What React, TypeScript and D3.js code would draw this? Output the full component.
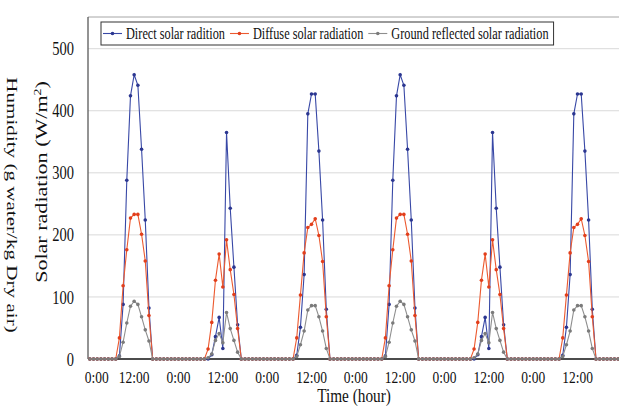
import React, { useRef, useEffect } from "react";
import * as d3 from "d3";

// hourly profiles (0:00 .. 23:00) for the three kinds of day in the record
const directA = [0, 0, 0, 0, 0, 0, 0, 0, 5, 88, 288, 424, 458, 441, 338, 224, 82, 0, 0, 0, 0, 0, 0, 0];
const directB = [0, 0, 0, 0, 0, 0, 0, 0, 0, 7, 36, 67, 17, 365, 243, 148, 55, 0, 0, 0, 0, 0, 0, 0];
const directC = [0, 0, 0, 0, 0, 0, 0, 0, 6, 51, 136, 395, 427, 427, 335, 224, 80, 0, 0, 0, 0, 0, 0, 0];

const diffuseA = [0, 0, 0, 0, 0, 0, 0, 0, 34, 118, 176, 227, 233, 233, 201, 158, 70, 0, 0, 0, 0, 0, 0, 0];
const diffuseB = [0, 0, 0, 0, 0, 0, 0, 0, 16, 59, 127, 169, 116, 192, 144, 104, 49, 0, 0, 0, 0, 0, 0, 0];
const diffuseC = [0, 0, 0, 0, 0, 0, 0, 0, 34, 103, 171, 212, 217, 226, 199, 157, 68, 0, 0, 0, 0, 0, 0, 0];

const groundA = [0, 0, 0, 0, 0, 0, 0, 0, 4, 27, 58, 85, 93, 88, 68, 47, 29, 0, 0, 0, 0, 0, 0, 0];
const groundB = [0, 0, 0, 0, 0, 0, 0, 0, 2, 8, 30, 41, 26, 75, 49, 30, 11, 0, 0, 0, 0, 0, 0, 0];
const groundC = [0, 0, 0, 0, 0, 0, 0, 0, 4, 23, 45, 79, 86, 86, 68, 45, 17, 0, 0, 0, 0, 0, 0, 0];

// which profile each of the six days follows
const dayOrder = ["A", "B", "C", "A", "B", "C"];

const yTicks = [0, 100, 200, 300, 400, 500];
const xTickHours = [0, 12, 24, 36, 48, 60, 72, 84, 96, 108, 120, 132];
const xTickLabels = ["0:00", "12:00", "0:00", "12:00", "0:00", "12:00", "0:00", "12:00", "0:00", "12:00", "0:00", "12:00"];

const seriesNames = ["Direct solar radition", "Diffuse solar radiation", "Ground reflected solar radiation"];

const profiles: Record<string, Record<string, number[]>> = {
  direct: { A: directA, B: directB, C: directC },
  diffuse: { A: diffuseA, B: diffuseB, C: diffuseC },
  ground: { A: groundA, B: groundB, C: groundC },
};

const W = 619;
const H = 408;
const FONT = "'Liberation Serif', 'Times New Roman', serif";
const STRETCH = 1.3;

const App = () => {
  const svgRef = useRef<SVGSVGElement>(null);

  useEffect(() => {
    const svg = d3.select(svgRef.current);
    svg.selectAll("*").remove();

    const left = 88;
    const top = 17;

    const x = d3.scaleLinear().domain([-0.5, 143.5]).range([left, 620]);
    const y = d3.scaleLinear().domain([0, 500]).range([359, 48.7]);

    const series = [
      { key: "direct", name: seriesNames[0], line: "#3848A6", mark: "#2B3690" },
      { key: "diffuse", name: seriesNames[1], line: "#EC5A30", mark: "#E23E1B" },
      { key: "ground", name: seriesNames[2], line: "#8E8E8E", mark: "#7B7B7B" },
    ].map((s) => ({
      ...s,
      values: dayOrder.flatMap((d) => profiles[s.key][d]),
    }));

    // gridlines
    svg
      .append("g")
      .selectAll("line")
      .data(yTicks.filter((t) => t > 0))
      .enter()
      .append("line")
      .attr("x1", left)
      .attr("x2", W)
      .attr("y1", (d) => y(d))
      .attr("y2", (d) => y(d))
      .attr("stroke", "#D9D9D9")
      .attr("stroke-width", 1);

    // frame
    svg
      .append("line")
      .attr("x1", left)
      .attr("x2", W)
      .attr("y1", top)
      .attr("y2", top)
      .attr("stroke", "#A6A6A6");
    svg
      .append("line")
      .attr("x1", left)
      .attr("x2", left)
      .attr("y1", top)
      .attr("y2", y(0))
      .attr("stroke", "#595959")
      .attr("stroke-width", 1.3);
    svg
      .append("line")
      .attr("x1", left)
      .attr("x2", W)
      .attr("y1", y(0))
      .attr("y2", y(0))
      .attr("stroke", "#111")
      .attr("stroke-width", 1.3);

    // y tick labels
    svg
      .append("g")
      .selectAll("text")
      .data(yTicks)
      .enter()
      .append("text")
      .attr("transform", (d) => `translate(74, ${y(d)}) scale(1, ${STRETCH})`)
      .attr("dy", "0.35em")
      .attr("text-anchor", "end")
      .attr("font-family", FONT)
      .attr("font-size", 14.5)
      .attr("fill", "#111")
      .text((d) => d);

    // x tick labels
    svg
      .append("g")
      .selectAll("text")
      .data(xTickHours)
      .enter()
      .append("text")
      .attr("transform", (d, i) => `translate(${i === 0 ? x(d) + 7 : x(d)}, 376.5) scale(1, ${STRETCH})`)
      .attr("dy", "0.35em")
      .attr("text-anchor", "middle")
      .attr("font-family", FONT)
      .attr("font-size", 13.5)
      .attr("fill", "#111")
      .text((d, i) => xTickLabels[i]);

    // axis titles
    svg
      .append("text")
      .attr("transform", `translate(354, 396) scale(1, 1.2)`)
      .attr("dy", "0.35em")
      .attr("text-anchor", "middle")
      .attr("font-family", FONT)
      .attr("font-size", 15.3)
      .attr("fill", "#111")
      .text("Time (hour)");

    const yTitle = svg
      .append("text")
      .attr("transform", `translate(41, 182) scale(1, 1.38) rotate(-90)`)
      .attr("dy", "0.35em")
      .attr("text-anchor", "middle")
      .attr("font-family", FONT)
      .attr("font-size", 16)
      .attr("fill", "#111");
    yTitle.append("tspan").text("Solar radiation (W/m");
    yTitle.append("tspan").attr("font-size", 10).attr("dy", "-0.6em").text("2");
    yTitle.append("tspan").attr("dy", "0.38em").text(")");

    svg
      .append("text")
      .attr("transform", `translate(12, 205) scale(1, 1.38) rotate(90)`)
      .attr("dy", "0.35em")
      .attr("text-anchor", "middle")
      .attr("font-family", FONT)
      .attr("font-size", 15.3)
      .attr("fill", "#111")
      .text("Humidity (g water/kg Dry air)");

    // series
    const line = d3
      .line<number>()
      .x((d, i) => x(i))
      .y((d) => y(d));

    series.forEach((s) => {
      const g = svg.append("g");
      g.append("path")
        .datum(s.values)
        .attr("d", line)
        .attr("fill", "none")
        .attr("stroke", s.line)
        .attr("stroke-width", 1.1);
      g.selectAll("circle")
        .data(s.values)
        .enter()
        .append("circle")
        .attr("cx", (d, i) => x(i))
        .attr("cy", (d) => y(d))
        .attr("r", 1.8)
        .attr("fill", s.mark);
    });

    // legend
    const legend = svg.append("g");
    const box = legend
      .append("rect")
      .attr("x", 101)
      .attr("y", 22)
      .attr("height", 23)
      .attr("fill", "#fff")
      .attr("stroke", "#333")
      .attr("stroke-width", 1);
    let cx = 103;
    series.forEach((s) => {
      legend
        .append("line")
        .attr("x1", cx)
        .attr("x2", cx + 19)
        .attr("y1", 33.5)
        .attr("y2", 33.5)
        .attr("stroke", s.line)
        .attr("stroke-width", 1.1);
      legend
        .append("circle")
        .attr("cx", cx + 9.5)
        .attr("cy", 33.5)
        .attr("r", 1.8)
        .attr("fill", s.mark);
      const t = legend
        .append("text")
        .attr("transform", `translate(${cx + 23}, 33.5) scale(1, ${STRETCH})`)
        .attr("dy", "0.35em")
        .attr("font-family", FONT)
        .attr("font-size", 12.3)
        .attr("fill", "#111")
        .text(s.name);
      const len = (t.node() as SVGTextElement).getComputedTextLength();
      cx = cx + 23 + len + 5;
    });
    box.attr("width", cx - 101);
  }, []);

  return (
    <svg
      ref={svgRef}
      width={W}
      height={H}
      style={{ position: "absolute", left: 0, top: 0, background: "#fff" }}
    ></svg>
  );
};

export default App;
